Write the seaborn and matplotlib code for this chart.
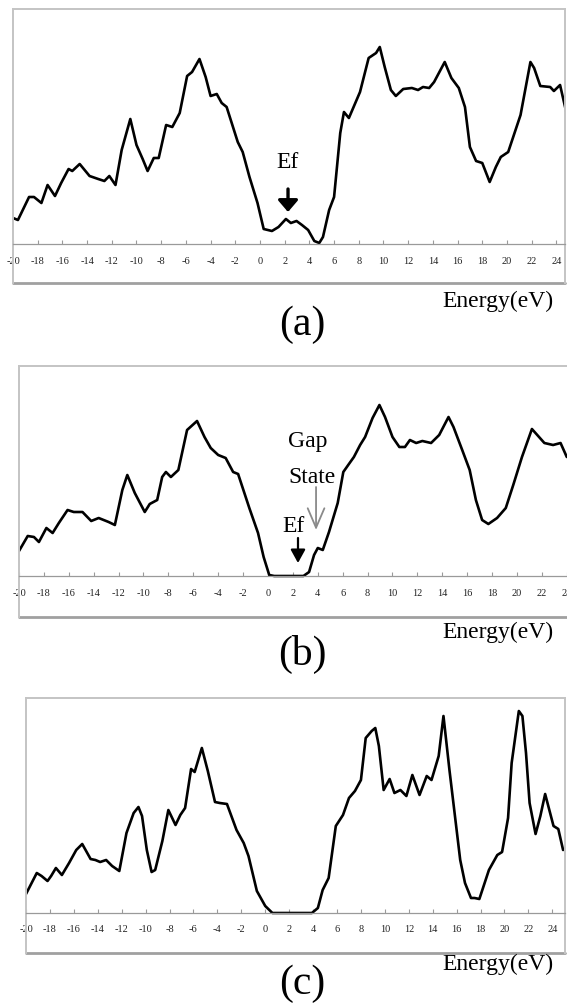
import matplotlib
matplotlib.use('Agg')
import matplotlib.pyplot as plt
import seaborn as sns

# energia (eV) e densidade de estados, uma lista por painel
energy_a = [-20.0, -19.6, -18.7, -18.3, -17.7, -17.2, -16.6, -16.1, -15.5, -15.2,
            -14.6, -13.8, -13.1, -12.6, -12.2, -11.7, -11.2, -10.5, -10.0, -9.5,
            -9.1, -8.6, -8.2, -7.6, -7.1, -6.5, -5.9, -5.5, -4.9, -4.4,
            -4.0, -3.5, -3.1, -2.7, -1.8, -1.4, -0.85, -0.2, 0.3, 0.97,
            1.5, 2.1, 2.5, 2.96, 3.4, 3.9, 4.4, 4.8, 5.1, 5.6,
            6.0, 6.5, 6.8, 7.2, 8.1, 8.8, 9.4, 9.7, 10.1, 10.6,
            11.0, 11.6, 12.3, 12.8, 13.2, 13.7, 14.1, 14.96, 15.5, 16.1,
            16.6, 17.0, 17.5, 18.0, 18.6, 19.1, 19.5, 20.1, 21.1, 21.9,
            22.2, 22.7, 23.5, 23.8, 24.3, 24.8]
dos_a = [26, 24, 47, 47, 41, 59, 48, 61, 75, 73,
         80, 68, 65, 63, 68, 59, 94, 125, 99, 85,
         73, 86, 86, 119, 117, 131, 168, 172, 185, 167,
         148, 150, 141, 137, 102, 92, 67, 41, 15, 13,
         17, 25, 21, 23, 19, 14, 3, 1, 7, 34,
         47, 111, 132, 126, 152, 186, 191, 197, 177, 154,
         148, 155, 156, 154, 157, 156, 162, 182, 166, 156,
         137, 97, 83, 81, 62, 77, 87, 92, 129, 182,
         176, 158, 157, 153, 159, 132]

energy_b = [-20.0, -19.3, -18.8, -18.4, -17.8, -17.3, -16.8, -16.1, -15.6, -14.9,
            -14.2, -13.6, -12.8, -12.3, -11.7, -11.3, -10.7, -9.9, -9.5, -8.9,
            -8.5, -8.2, -7.8, -7.2, -6.5, -5.7, -5.1, -4.6, -4.0, -3.4,
            -2.8, -2.4, -1.5, -0.8, -0.35, 0.1, 0.5, 2.85, 3.3, 3.7,
            4.0, 4.4, 4.9, 5.6, 6.05, 6.5, 6.9, 7.4, 7.8, 8.4,
            8.95, 9.4, 10.0, 10.55, 11.0, 11.4, 11.9, 12.4, 13.1, 13.75,
            14.5, 14.9, 15.6, 16.2, 16.7, 17.2, 17.7, 18.4, 19.1, 19.7,
            20.4, 21.2, 21.7, 22.2, 22.9, 23.5, 24.0]
dos_b = [25, 40, 39, 34, 48, 43, 53, 66, 64, 64,
         55, 58, 54, 51, 86, 101, 83, 64, 72, 76,
         99, 104, 99, 106, 146, 155, 139, 128, 121, 118,
         104, 102, 68, 43, 19, 1, 0, 0, 4, 21,
         28, 26, 44, 73, 104, 112, 119, 131, 139, 158,
         171, 159, 139, 129, 129, 136, 133, 135, 133, 141,
         159, 149, 126, 106, 76, 56, 52, 58, 68, 91,
         119, 147, 140, 133, 131, 133, 119]

energy_c = [-20.0, -19.1, -18.7, -18.2, -17.9, -17.5, -17.0, -16.4, -15.8, -15.3,
            -14.6, -14.2, -13.8, -13.3, -12.8, -12.2, -11.6, -11.0, -10.6, -10.3,
            -9.9, -9.5, -9.2, -8.6, -8.1, -7.5, -7.1, -6.7, -6.2, -5.9,
            -5.3, -4.8, -4.2, -3.8, -3.2, -2.4, -1.8, -1.4, -0.7, 0.0,
            0.6, 3.9, 4.4, 4.8, 5.3, 5.9, 6.5, 7.0, 7.5, 8.0,
            8.4, 8.9, 9.2, 9.5, 9.9, 10.4, 10.8, 11.3, 11.8, 12.3,
            12.9, 13.5, 13.9, 14.5, 14.9, 15.4, 15.9, 16.3, 16.7, 17.2,
            17.5, 17.9, 18.7, 19.4, 19.8, 20.3, 20.6, 21.2, 21.5, 21.8,
            22.1, 22.6, 23.0, 23.4, 24.1, 24.5, 24.9]
dos_c = [19, 40, 37, 32, 37, 45, 38, 50, 63, 69,
         54, 53, 51, 53, 47, 42, 80, 100, 106, 97,
         63, 41, 43, 72, 103, 88, 98, 105, 144, 141,
         165, 142, 111, 110, 109, 83, 70, 57, 22, 7,
         0, 0, 5, 23, 35, 87, 98, 115, 122, 133,
         175, 182, 185, 167, 123, 134, 120, 123, 117, 138,
         118, 137, 133, 157, 197, 143, 93, 53, 30, 15,
         15, 14, 43, 58, 61, 95, 150, 202, 197, 160,
         110, 79, 97, 119, 87, 84, 63]

tick_values = list(range(-20, 25, 2))
panel_letters = ['(a)', '(b)', '(c)']

sns.set_style('white')
plt.rcParams['font.family'] = ['Liberation Serif', 'DejaVu Serif']
plt.rcParams['axes.unicode_minus'] = False
plt.rcParams['text.color'] = 'black'

W, H = 567, 1005
fig = plt.figure(figsize=(W / 100, H / 100), dpi=100)


def painel(box, xlim, ylim, energy, dos, letter, label_y, letter_y):
    # box em pixels: esquerda, topo, direita, base
    l, t, r, b = box
    ax = fig.add_axes([l / W, 1 - b / H, (r - l) / W, (b - t) / H])
    sns.lineplot(x=energy, y=dos, ax=ax, color='black', lw=1.9, sort=False)
    ax.lines[0].set_solid_joinstyle('round')
    ax.lines[0].set_solid_capstyle('round')
    ax.set_xlim(xlim)
    ax.set_ylim(ylim)
    # moldura cinza e eixo na linha do zero
    for s in ['left', 'top', 'right']:
        ax.spines[s].set_color('#c4c4c4')
        ax.spines[s].set_linewidth(1.4)
    ax.spines['bottom'].set_position(('data', 0))
    ax.spines['bottom'].set_color('#9a9a9a')
    ax.spines['bottom'].set_linewidth(0.9)
    ax.plot([0, 1], [0, 0], transform=ax.transAxes, color='#a0a0a0', lw=2.0, clip_on=False)
    ax.set_xticks(tick_values)
    ax.set_yticks([])
    ax.tick_params(axis='x', direction='in', length=3, width=0.8, color='#9a9a9a',
                   labelsize=7.5, labelcolor='#222222', pad=9, bottom=True)
    ax.set_xlabel('')
    ax.set_ylabel('')
    fig.text(553 / W, 1 - label_y / H, 'Energy(eV)', ha='right', va='baseline', fontsize=17, color='black')
    fig.text(302 / W, 1 - letter_y / H, letter, ha='center', va='center', fontsize=30, color='black')
    return ax


ax_a = painel((13, 9, 565, 283), (-20, 24.70), (-39, 235), energy_a, dos_a, panel_letters[0], 307, 325)
ax_b = painel((19, 366, 575, 617), (-20, 24.66), (-41, 210), energy_b, dos_b, panel_letters[1], 638, 654)
ax_c = painel((26, 698, 565, 953), (-20, 25.06), (-40, 215), energy_c, dos_c, panel_letters[2], 970, 984)

# anotações do painel (a)
ax_a.text(2.23, 76, 'Ef', ha='center', va='baseline', fontsize=17)
ax_a.annotate('', xy=(2.27, 32), xytext=(2.27, 55),
              arrowprops=dict(arrowstyle='-|>,head_width=0.3,head_length=0.35', color='black',
                              lw=2.4, mutation_scale=20, shrinkA=0, shrinkB=0))

# anotações do painel (b)
ax_b.text(1.61, 129, 'Gap', ha='left', va='baseline', fontsize=17)
ax_b.text(1.61, 93, 'State', ha='left', va='baseline', fontsize=17)
ax_b.annotate('', xy=(3.86, 46), xytext=(3.86, 89),
              arrowprops=dict(arrowstyle='->,head_width=0.3,head_length=0.7', color='#8a8a8a',
                              lw=1.3, mutation_scale=20, shrinkA=0, shrinkB=0))
ax_b.text(1.12, 44, 'Ef', ha='left', va='baseline', fontsize=17)
ax_b.annotate('', xy=(2.41, 13), xytext=(2.41, 38),
              arrowprops=dict(arrowstyle='-|>,head_width=0.22,head_length=0.4', color='black',
                              lw=1.6, mutation_scale=20, shrinkA=0, shrinkB=0))

fig.savefig('out.png', dpi=100, facecolor='white')
